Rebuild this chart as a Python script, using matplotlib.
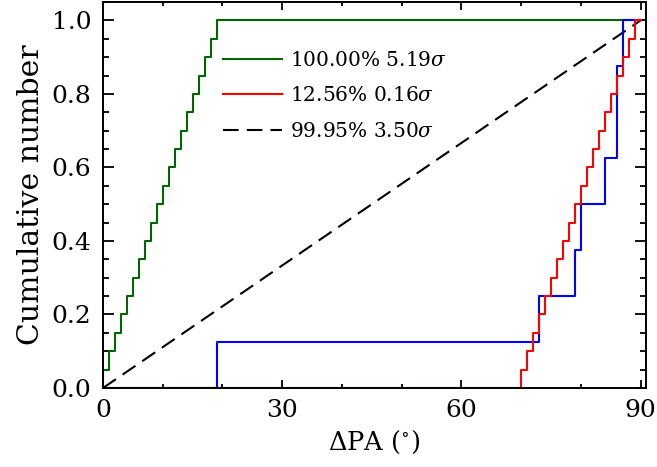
import matplotlib
matplotlib.use("Agg")
import matplotlib.pyplot as plt
from matplotlib.ticker import MultipleLocator, FormatStrFormatter

plt.rcParams['font.family'] = ['DejaVu Serif']
plt.rcParams['mathtext.fontset'] = 'dejavuserif'

# Data (delta PA values in degrees)
green_pa = [0, 1, 2, 3, 4, 5, 6, 7, 8, 9, 10, 11, 12, 13, 14, 15, 16, 17, 18, 19]
red_pa = [70, 71, 72, 73, 74, 75, 76, 77, 78, 79, 80, 81, 82, 83, 84, 85, 86, 87, 88, 89]
blue_pa = [19, 73, 79, 80, 84, 86, 86, 87]
uniform_x = [0, 90]
uniform_y = [0, 1]
labels = ["100.00% 5.19$\\sigma$", "12.56% 0.16$\\sigma$", "99.95% 3.50$\\sigma$"]
x_max_data = 90


def cdf_steps(vals):
    n = len(vals)
    xs = [0] + list(vals) + [x_max_data]
    ys = [0] + [k / n for k in range(1, n + 1)] + [1.0]
    return xs, ys


fig = plt.figure(figsize=(6.57, 4.67), dpi=100)
ax = fig.add_axes([0.1568, 0.1692, 0.8265, 0.8265])

lw = 1.5
ld, = ax.plot(uniform_x, uniform_y, color='black', lw=lw, dashes=(7.5, 3.9))
gx, gy = cdf_steps(green_pa)
lg, = ax.step(gx, gy, where='post', color='#006400', lw=lw)
bx, by = cdf_steps(blue_pa)
lb, = ax.step(bx, by, where='post', color='#0000ff', lw=lw)
rx, ry = cdf_steps(red_pa)
lr, = ax.step(rx, ry, where='post', color='#ff0000', lw=lw)

ax.set_xlim(0, 90.9)
ax.set_ylim(0, 1.05)
ax.xaxis.set_major_locator(MultipleLocator(30))
ax.xaxis.set_minor_locator(MultipleLocator(10))
ax.yaxis.set_major_locator(MultipleLocator(0.2))
ax.yaxis.set_minor_locator(MultipleLocator(0.05))
ax.yaxis.set_major_formatter(FormatStrFormatter('%.1f'))

ax.tick_params(axis='both', which='both', direction='in', top=True, right=True,
               width=1.3, labelsize=18)
ax.tick_params(axis='x', which='major', length=5.8, pad=8)
ax.tick_params(axis='x', which='minor', length=2.9)
ax.tick_params(axis='y', which='major', length=7.9, pad=8.5)
ax.tick_params(axis='y', which='minor', length=4)
for s in ax.spines.values():
    s.set_linewidth(1.4)

ax.set_xlabel("ΔPA ($^{\\circ}$)", fontsize=18.5, labelpad=5)
ax.set_ylabel("Cumulative number", fontsize=21.5, labelpad=5)

leg = ax.legend([lg, lr, ld], labels, loc='upper left', bbox_to_anchor=(0.221, 0.874),
                frameon=False, fontsize=14.5, handlelength=2.95, handletextpad=0.4,
                labelspacing=0.82, borderpad=0, borderaxespad=0)

fig.savefig("out.png", dpi=100)
